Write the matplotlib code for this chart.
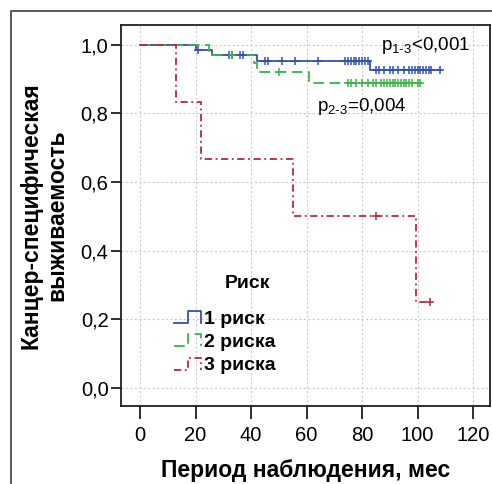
import matplotlib
matplotlib.use("Agg")
import matplotlib.pyplot as plt
from matplotlib.lines import Line2D
from matplotlib.legend_handler import HandlerBase

plt.rcParams['font.family'] = ['Liberation Sans', 'DejaVu Sans']
plt.rcParams['mathtext.fontset'] = 'custom'
plt.rcParams['mathtext.rm'] = 'Liberation Sans'
plt.rcParams['mathtext.it'] = 'Liberation Sans'

# ---- data ----
groups = ["1 риск", "2 риска", "3 риска"]

g1_times = [0, 20, 26, 42, 83, 108.5]
g1_surv = [1.0, 0.985, 0.969, 0.952, 0.926, 0.926]
g1_cens = [21, 32, 33, 36, 37, 45, 46, 51, 56, 64, 74, 75, 76, 77, 78, 79, 80,
           81, 82, 85, 86, 88, 90, 91, 93, 95, 97, 98, 99, 100, 101, 102, 103,
           104, 105, 108]

g2_times = [0, 25, 41, 42, 61, 101]
g2_surv = [1.0, 0.969, 0.947, 0.92, 0.888, 0.888]
g2_cens = [33, 50, 75, 76, 78, 80, 82, 84, 85, 87, 88, 89, 90, 91, 92, 93, 94,
           95, 96, 97, 98, 100, 101]

g3_times = [0, 13, 22, 55.3, 99.5, 104.5]
g3_surv = [1.0, 0.833, 0.667, 0.5, 0.25, 0.25]
g3_cens = [85, 104.5]

x_ticks = [0, 20, 40, 60, 80, 100, 120]
y_ticks = [0.0, 0.2, 0.4, 0.6, 0.8, 1.0]
y_ticklabels = ["0,0", "0,2", "0,4", "0,6", "0,8", "1,0"]

colors = ["#3352a8", "#3cb44a", "#b52a40"]
styles = ["-", (0, (6, 3)), (0, (4, 2, 1, 2))]


def surv_at(times, surv, t):
    v = surv[0]
    for ti, si in zip(times, surv):
        if t >= ti:
            v = si
    return v


fig = plt.figure(figsize=(4.92, 4.84), dpi=100)
ax = fig.add_axes([121 / 492, 78 / 484, 369 / 492, 381 / 484])

data = [(g1_times, g1_surv, g1_cens), (g2_times, g2_surv, g2_cens),
        (g3_times, g3_surv, g3_cens)]
handles = []
for (t, s, c), col, ls, name in zip(data, colors, styles, groups):
    ln, = ax.step(t, s, where='post', color=col, linestyle=ls, lw=1.3,
                  label=name, zorder=3)
    handles.append(ln)
    cy = [surv_at(t, s, ci) for ci in c]
    ax.plot(c, cy, linestyle='none', marker='+', color=col, ms=6, mew=1.1,
            zorder=4)

ax.set_xlim(-6.85, 126.1)
ax.set_ylim(-0.053, 1.057)
ax.set_xticks(x_ticks)
ax.set_yticks(y_ticks)
ax.set_yticklabels(y_ticklabels)
ax.tick_params(axis='x', direction='out', length=9, width=1.3, labelsize=14.5,
               pad=5.5, color='#202020')
ax.tick_params(axis='y', direction='out', length=7, width=1.3, labelsize=14.5,
               pad=2, color='#202020')
for sp in ax.spines.values():
    sp.set_linewidth(1.3)
    sp.set_color('#202020')
ax.grid(True, color='#cccccc', linestyle=(0, (2, 2)), lw=0.8, zorder=0)
ax.set_axisbelow(True)

ax.set_xlabel("Период наблюдения, мес", fontsize=16.5, fontweight='bold',
              labelpad=10)
ax.set_ylabel("Канцер-специфическая\nвыживаемость", fontsize=16.5,
              fontweight='bold', labelpad=9, linespacing=1.15)

# p-values
ax.text(86.7, 0.967, r"p$_{\mathrm{1\text{-}3}}$<0,001", fontsize=13.5,
        ha='left', va='bottom')
ax.text(63.7, 0.789, r"p$_{\mathrm{2\text{-}3}}$=0,004", fontsize=13.5,
        ha='left', va='bottom')


class StepHandler(HandlerBase):
    def create_artists(self, legend, orig_handle, xdescent, ydescent, width,
                       height, fontsize, trans):
        x0 = -xdescent
        x1 = x0 + width
        y0 = -ydescent + height * 0.05
        y1 = -ydescent + height * 0.95
        xm = x0 + 0.5 * width
        ln = Line2D([x0, xm, xm, x1, x1], [y0, y0, y1, y1, y0])
        ln.update_from(orig_handle)
        ln.set_transform(trans)
        return [ln]


leg = ax.legend(handles=handles, labels=groups, loc='upper left',
                bbox_to_anchor=(0.096, 0.298), frameon=False,
                prop={'size': 14, 'weight': 'bold'}, handlelength=1.4,
                handletextpad=0.15, labelspacing=0.3,
                handler_map={Line2D: StepHandler()})
ax.text(0.344, 0.322, "Риск", transform=ax.transAxes, fontsize=14,
        fontweight='bold', ha='center', va='center')

# outer frame
fig.add_artist(Line2D([11 / 492, 11 / 492, 1.0], [0, 1 - 11 / 484, 1 - 11 / 484],
                      transform=fig.transFigure, color='#404040', lw=1.2))

fig.savefig("out.png", dpi=100)
